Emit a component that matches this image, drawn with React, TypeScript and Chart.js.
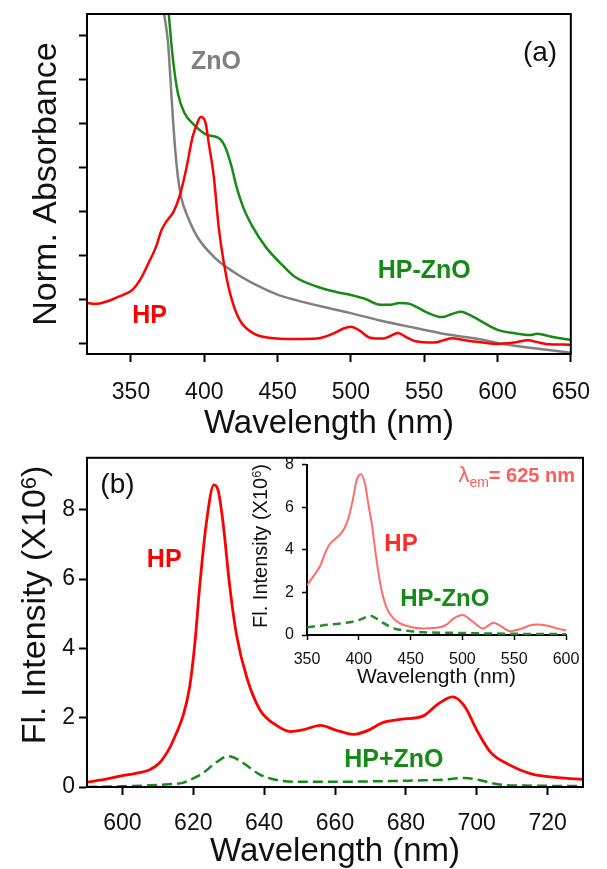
import React, { useEffect, useRef } from "react";
import { Chart, registerables } from "chart.js";
Chart.register(...registerables);

const FONT = 'Arial, "Liberation Sans", Helvetica, sans-serif';
const RED = "#ff0000";
const GREEN = "#168a16";
const GRAY = "#808080";
const INSET_RED = "#ff6c6c";
const INSET_GREEN = "#2a8a2a";

// ---------- Panel (a): normalized absorbance (arbitrary units) ----------
const absTicksX = [350, 400, 450, 500, 550, 600, 650];
const absTicksY = [0, 1, 2, 3, 4, 5, 6, 7];

const znoAbsWl = [366, 370, 372.7, 375.3, 377.5, 379.8, 382, 384.2, 388.7, 395.3, 406.5, 419.8, 435.3, 450.7, 462, 480, 500, 520, 544, 565, 589, 600, 625, 650];
const znoAbs = [9.8, 8.3, 7.5, 6.84, 5.7, 4.57, 3.8, 3.34, 2.89, 2.43, 1.98, 1.64, 1.34, 1.11, 1.0, 0.85, 0.7, 0.53, 0.36, 0.22, 0.1, 0.02, -0.1, -0.2];

const hpZnoAbsWl = [371, 373.5, 375.8, 378.7, 382, 386.5, 393, 402, 409.8, 414.2, 418.7, 422, 426.5, 433, 442, 453, 462, 477, 490, 500, 510, 520, 527, 533, 540, 546, 551, 562, 569, 575, 581, 587, 600, 612, 622, 627, 637, 650];
const hpZnoAbs = [9.8, 8.5, 7.5, 6.45, 5.7, 5.25, 4.98, 4.75, 4.68, 4.48, 4.02, 3.57, 3.11, 2.66, 2.2, 1.8, 1.52, 1.3, 1.18, 1.11, 1.02, 0.89, 0.89, 0.93, 0.91, 0.82, 0.73, 0.61, 0.68, 0.73, 0.66, 0.55, 0.32, 0.24, 0.2, 0.23, 0.16, 0.09];

const hpAbsWl = [320, 325, 330, 335, 340, 345, 351, 357, 362, 367, 371, 375, 379, 383, 387.5, 392, 395, 397.5, 400.9, 403, 406.5, 409.8, 413, 417.5, 424, 433, 444, 462, 477, 483, 489, 495, 500, 506, 513, 522, 527, 532, 538, 544, 557, 563, 569, 575, 580, 590, 600, 611, 621, 627, 633, 650];
const hpAbs = [0.93, 0.91, 0.93, 0.98, 1.05, 1.12, 1.23, 1.5, 1.84, 2.2, 2.6, 2.82, 3.0, 3.34, 3.95, 4.7, 5.0, 5.16, 5.02, 4.57, 3.8, 2.66, 1.91, 1.16, 0.55, 0.25, 0.14, 0.11, 0.12, 0.17, 0.25, 0.35, 0.39, 0.3, 0.14, 0.12, 0.18, 0.25, 0.15, 0.06, 0.03, 0.08, 0.13, 0.1, 0.07, 0.03, 0.0, 0.03, 0.08, 0.04, 0.0, -0.02];

// ---------- Panel (b): emission (x10^6) ----------
const flTicksX = [600, 620, 640, 660, 680, 700, 720];
const flTicksY = [0, 2, 4, 6, 8];

const flHpWl = [590, 595, 600, 604, 607.7, 610.5, 613.3, 615, 617.1, 619, 620.5, 621.8, 623.7, 625.8, 627, 628.4, 630.3, 632.2, 635.1, 638.8, 643.6, 647.4, 651, 655.9, 660, 665.3, 669, 673.8, 678.5, 685.1, 688.9, 693.2, 696.5, 700.3, 704, 708.8, 715.4, 723, 730];
const flHp = [0.14, 0.22, 0.33, 0.4, 0.5, 0.7, 1.12, 1.5, 2.05, 2.9, 4.2, 5.78, 7.63, 8.72, 8.57, 7.63, 5.78, 4.39, 3.16, 2.23, 1.77, 1.6, 1.65, 1.78, 1.65, 1.52, 1.62, 1.87, 1.95, 2.06, 2.38, 2.6, 2.34, 1.59, 0.99, 0.66, 0.38, 0.27, 0.22];

const flHpZnoWl = [590, 600, 608, 613, 617, 620, 622.7, 626.6, 629.8, 631.5, 634, 638.8, 643.6, 649, 655, 661.5, 668, 675.7, 683, 690, 696.5, 700.3, 705.9, 713.4, 730];
const flHpZno = [0.0, 0.02, 0.05, 0.08, 0.12, 0.25, 0.4, 0.72, 0.89, 0.85, 0.7, 0.36, 0.2, 0.15, 0.15, 0.15, 0.16, 0.17, 0.19, 0.21, 0.26, 0.21, 0.08, 0.04, 0.03];

// ---------- Inset: excitation (x10^6), λem = 625 nm ----------
const exTicksX = [350, 400, 450, 500, 550, 600];
const exTicksY = [0, 2, 4, 6, 8];

const exHpWl = [350, 356, 362.5, 368, 372, 377, 382, 386, 390, 394, 398, 402, 406, 409, 412.7, 415.5, 418.5, 422, 427, 433, 440, 450, 462, 478, 485, 491, 500, 509, 520, 530, 536, 546, 558, 565, 572, 581, 591, 600];
const exHp = [2.33, 2.75, 3.23, 3.9, 4.27, 4.5, 4.72, 5.0, 5.48, 6.3, 7.28, 7.55, 7.1, 6.2, 5.17, 4.1, 3.06, 2.1, 1.26, 0.8, 0.54, 0.38, 0.31, 0.36, 0.5, 0.76, 0.94, 0.67, 0.31, 0.58, 0.45, 0.18, 0.31, 0.45, 0.49, 0.45, 0.31, 0.22];

const exHpZnoWl = [350, 365, 382, 398, 405, 411, 416, 423, 430, 437, 450, 462, 495, 527, 560, 600];
const exHpZno = [0.36, 0.45, 0.54, 0.67, 0.8, 0.9, 0.8, 0.58, 0.4, 0.27, 0.18, 0.13, 0.1, 0.07, 0.05, 0.04];

type Note = { text: string; x: number; y: number; color: string; size: number; bold?: boolean };

const notesA: Note[] = [
  { text: "(a)", x: 629, y: 6.61, color: "#111", size: 28 },
  { text: "ZnO", x: 408, y: 6.41, color: GRAY, size: 25, bold: true },
  { text: "HP", x: 362.7, y: 0.64, color: RED, size: 25, bold: true },
  { text: "HP-ZnO", x: 550, y: 1.66, color: GREEN, size: 25, bold: true },
];
const notesB: Note[] = [
  { text: "(b)", x: 598.6, y: 8.7, color: "#111", size: 28 },
  { text: "HP", x: 611.8, y: 6.54, color: RED, size: 25, bold: true },
  { text: "HP+ZnO", x: 676.6, y: 0.78, color: GREEN, size: 25, bold: true },
];
const notesInset: Note[] = [
  { text: "HP", x: 440.7, y: 4.27, color: "#ff2a2a", size: 24, bold: true },
  { text: "HP-ZnO", x: 483, y: 1.66, color: GREEN, size: 24, bold: true },
];

const pts = (xs: number[], ys: number[]) => xs.map((x, i) => ({ x, y: ys[i] }));
const fixedTicks = (vals: number[]) => (scale: any) => {
  scale.ticks = vals.map((v) => ({ value: v }));
};

const framePlugin = {
  id: "frame",
  afterDatasetsDraw(chart: any) {
    const { ctx, chartArea } = chart;
    ctx.save();
    ctx.strokeStyle = "#000";
    ctx.lineWidth = 2;
    ctx.strokeRect(chartArea.left, chartArea.top, chartArea.right - chartArea.left, chartArea.bottom - chartArea.top);
    ctx.restore();
  },
};

const notesPlugin = (notes: Note[]) => ({
  id: "notes",
  afterDatasetsDraw(chart: any) {
    const { ctx } = chart;
    const sx = chart.scales.x;
    const sy = chart.scales.y;
    ctx.save();
    ctx.textAlign = "center";
    ctx.textBaseline = "middle";
    notes.forEach((n) => {
      ctx.font = `${n.bold ? "bold " : ""}${n.size}px ${FONT}`;
      ctx.fillStyle = n.color;
      ctx.fillText(n.text, sx.getPixelForValue(n.x), sy.getPixelForValue(n.y));
    });
    ctx.restore();
  },
});

function drawSupTitle(ctx: CanvasRenderingContext2D, cx: number, cy: number, size: number) {
  const parts = [
    { t: "Fl. Intensity (X10", s: size, dy: 0 },
    { t: "6", s: size * 0.64, dy: -size * 0.26 },
    { t: ")", s: size, dy: 0 },
  ];
  ctx.save();
  ctx.translate(cx, cy);
  ctx.rotate(-Math.PI / 2);
  ctx.fillStyle = "#111";
  ctx.textAlign = "left";
  ctx.textBaseline = "alphabetic";
  let total = 0;
  const widths = parts.map((p) => {
    ctx.font = `${p.s}px ${FONT}`;
    const w = ctx.measureText(p.t).width;
    total += w;
    return w;
  });
  let x = -total / 2;
  const base = size * 0.358;
  parts.forEach((p, i) => {
    ctx.font = `${p.s}px ${FONT}`;
    ctx.fillText(p.t, x, base + p.dy);
    x += widths[i];
  });
  ctx.restore();
}

const yTitlePlugin = (capCenterX: number, centerY: number, size: number) => ({
  id: "ytitle",
  afterDraw(chart: any) {
    drawSupTitle(chart.ctx, capCenterX, centerY, size);
  },
});

const lambdaPlugin = {
  id: "lambda",
  afterDatasetsDraw(chart: any) {
    const { ctx } = chart;
    const right = chart.scales.x.getPixelForValue(608.7);
    const mid = chart.scales.y.getPixelForValue(7.5);
    const base = mid + 20 * 0.358;
    const parts = [
      { t: "λ", f: `22px ${FONT}`, dy: 0 },
      { t: "em", f: `14px ${FONT}`, dy: 5 },
      { t: "= 625 nm", f: `bold 20px ${FONT}`, dy: 0 },
    ];
    ctx.save();
    ctx.fillStyle = "#ff5c5c";
    ctx.textAlign = "left";
    ctx.textBaseline = "alphabetic";
    let total = 0;
    const widths = parts.map((p) => {
      ctx.font = p.f;
      const w = ctx.measureText(p.t).width;
      total += w;
      return w;
    });
    let x = right - total;
    parts.forEach((p, i) => {
      ctx.font = p.f;
      ctx.fillText(p.t, x, base + p.dy);
      x += widths[i];
    });
    ctx.restore();
  },
};

const axisStyle = (tickLen: number, fontSize: number, pad: number, tickW = 2) => ({
  border: { display: true, color: "#000", width: 2 },
  grid: { drawOnChartArea: false, drawTicks: true, tickLength: tickLen, tickWidth: tickW, tickColor: "#000" },
  ticks: { color: "#111", font: { family: FONT, size: fontSize }, padding: pad, maxRotation: 0, autoSkip: false },
});

const baseOptions = (padding: any) => ({
  responsive: false,
  animation: false as const,
  layout: { padding },
  plugins: { legend: { display: false }, tooltip: { enabled: false } },
  elements: { point: { radius: 0 } },
});

export default function App() {
  const refA = useRef<HTMLCanvasElement>(null);
  const refB = useRef<HTMLCanvasElement>(null);
  const refC = useRef<HTMLCanvasElement>(null);

  useEffect(() => {
    const line = (data: any, color: string, width: number, order: number, dash?: number[]) => ({
      data,
      borderColor: color,
      borderWidth: width,
      borderDash: dash || [],
      fill: false,
      pointRadius: 0,
      cubicInterpolationMode: "monotone",
      order,
    });

    const chartA = new Chart(refA.current as HTMLCanvasElement, {
      type: "line",
      data: {
        datasets: [
          { label: "HP", ...line(pts(hpAbsWl, hpAbs), RED, 2.5, 0) },
          { label: "HP-ZnO", ...line(pts(hpZnoAbsWl, hpZnoAbs), GREEN, 2.5, 1) },
          { label: "ZnO", ...line(pts(znoAbsWl, znoAbs), GRAY, 2.5, 2) },
        ] as any,
      },
      options: {
        ...baseOptions({ left: 0, top: 14, right: 24, bottom: 0 }),
        scales: {
          x: {
            type: "linear",
            min: 320,
            max: 650,
            afterBuildTicks: fixedTicks(absTicksX),
            afterFit: (s: any) => { s.height = 86; },
            ...axisStyle(8, 23, 17),
            title: { display: true, text: "Wavelength (nm)", color: "#111", font: { family: FONT, size: 33, lineHeight: 1 }, padding: { top: 0, bottom: 0 } },
          },
          y: {
            type: "linear",
            min: -0.23,
            max: 7.5,
            afterBuildTicks: fixedTicks(absTicksY),
            afterFit: (s: any) => { s.width = 87; },
            ...axisStyle(8, 22, 4),
            ticks: { display: false },
            title: { display: true, text: "Norm. Absorbance", color: "#111", font: { family: FONT, size: 34, lineHeight: 1 }, padding: { top: 30, bottom: 0 } },
          },
        },
      } as any,
      plugins: [framePlugin, notesPlugin(notesA)],
    });

    const chartB = new Chart(refB.current as HTMLCanvasElement, {
      type: "line",
      data: {
        datasets: [
          { label: "HP", ...line(pts(flHpWl, flHp), RED, 2.8, 1) },
          { label: "HP+ZnO", ...line(pts(flHpZnoWl, flHpZno), GREEN, 2.5, 0, [10, 5]) },
        ] as any,
      },
      options: {
        ...baseOptions({ left: 0, top: 7, right: 24, bottom: 0 }),
        scales: {
          x: {
            type: "linear",
            min: 590,
            max: 730,
            afterBuildTicks: fixedTicks(flTicksX),
            afterFit: (s: any) => { s.height = 82; },
            ...axisStyle(8, 23, 15),
            title: { display: true, text: "Wavelength (nm)", color: "#111", font: { family: FONT, size: 33, lineHeight: 1 }, padding: { top: 0, bottom: 1 } },
          },
          y: {
            type: "linear",
            min: 0,
            max: 9.5,
            afterBuildTicks: fixedTicks(flTicksY),
            afterFit: (s: any) => { s.width = 87; },
            ...axisStyle(8, 23, 4),
          },
        },
      } as any,
      plugins: [framePlugin, notesPlugin(notesB), yTitlePlugin(33, 165, 34)],
    });

    const chartC = new Chart(refC.current as HTMLCanvasElement, {
      type: "line",
      data: {
        datasets: [
          { label: "HP", ...line(pts(exHpWl, exHp), INSET_RED, 2, 1) },
          { label: "HP-ZnO", ...line(pts(exHpZnoWl, exHpZno), INSET_GREEN, 2.5, 0, [8, 5]) },
        ] as any,
      },
      options: {
        ...baseOptions({ left: 0, top: 10, right: 34, bottom: 0 }),
        scales: {
          x: {
            type: "linear",
            min: 350,
            max: 600,
            afterBuildTicks: fixedTicks(exTicksX),
            afterFit: (s: any) => { s.height = 62; },
            ...axisStyle(5, 16, 10, 1.5),
            title: { display: true, text: "Wavelength (nm)", color: "#111", font: { family: FONT, size: 21, lineHeight: 1 }, padding: { top: 0, bottom: 9 } },
          },
          y: {
            type: "linear",
            min: 0,
            max: 8,
            afterBuildTicks: fixedTicks(exTicksY),
            afterFit: (s: any) => { s.width = 77; },
            ...axisStyle(5, 16, 8, 1.5),
          },
        },
      } as any,
      plugins: [notesPlugin(notesInset), lambdaPlugin, yTitlePlugin(29.5, 99, 20)],
    });

    return () => {
      chartA.destroy();
      chartB.destroy();
      chartC.destroy();
    };
  }, []);

  return (
    <div style={{ position: "absolute", left: 0, top: 0, width: 607, height: 869, background: "#fff", overflow: "hidden" }}>
      <canvas ref={refA} width={607} height={440} style={{ position: "absolute", left: 0, top: 0 }} />
      <canvas ref={refB} width={607} height={429} style={{ position: "absolute", left: 0, top: 440 }} />
      <canvas ref={refC} width={370} height={250} style={{ position: "absolute", left: 230, top: 447 }} />
    </div>
  );
}
